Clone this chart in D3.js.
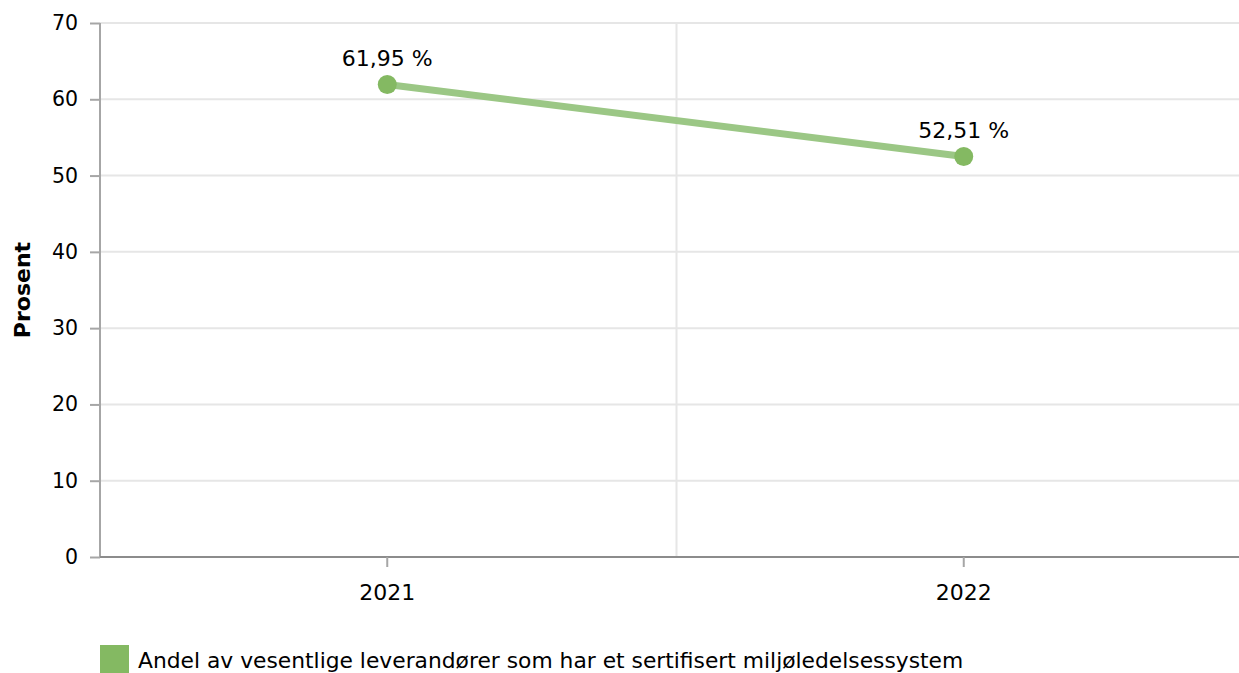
<!DOCTYPE html>
<meta charset="utf-8">
<body style="margin:0">
<script src="https://d3js.org/d3.v7.min.js"></script>
<script>
var years = ["2021", "2022"];
var values = [61.95, 52.51];
var labels = ["61,95 %", "52,51 %"];
var yTicks = [0, 10, 20, 30, 40, 50, 60, 70];
var seriesName = "Andel av vesentlige leverandører som har et sertifisert miljøledelsessystem";

var width = 1239, height = 673;
var font = "'DejaVu Sans', Verdana, sans-serif";

var svg = d3.select("body").append("svg")
    .attr("width", width)
    .attr("height", height)
    .style("font-family", font);

var x = d3.scaleBand()
    .domain(years)
    .range([99, 1252]);

var y = d3.scaleLinear()
    .domain([0, 70])
    .range([557, 23]);

// horizontal grid
svg.append("g").selectAll("line")
    .data(yTicks.slice(1))
    .enter().append("line")
    .attr("x1", 100).attr("x2", width)
    .attr("y1", function(d) { return y(d); })
    .attr("y2", function(d) { return y(d); })
    .attr("stroke", "#e6e6e6")
    .attr("stroke-width", 2);

// vertical grid between categories
svg.append("line")
    .attr("x1", x("2022") + 1).attr("x2", x("2022") + 1)
    .attr("y1", y(70)).attr("y2", y(0))
    .attr("stroke", "#e6e6e6")
    .attr("stroke-width", 2);

// y axis
var yAxis = svg.append("g")
    .attr("transform", "translate(100,0)")
    .call(d3.axisLeft(y).tickValues(yTicks).tickSize(10).tickPadding(12));
yAxis.select(".domain").attr("stroke", "#a6a6a6").attr("stroke-width", 2).attr("d", "M0," + y(70) + "V" + y(0));
yAxis.selectAll(".tick line").attr("stroke", "#a6a6a6").attr("stroke-width", 2);
yAxis.selectAll("text").attr("font-size", 20.5).attr("fill", "#000").style("font-family", font);

// x axis
var xAxis = svg.append("g")
    .attr("transform", "translate(0," + y(0) + ")")
    .call(d3.axisBottom(x).tickSize(10).tickPadding(17));
xAxis.select(".domain").attr("stroke", "#8c8c8c").attr("stroke-width", 2).attr("d", "M100,0H" + width);
xAxis.selectAll(".tick line").attr("stroke", "#a6a6a6").attr("stroke-width", 2);
xAxis.selectAll("text").attr("font-size", 22).attr("fill", "#000").style("font-family", font);

// y title
svg.append("text")
    .attr("transform", "translate(30," + ((y(0) + y(70)) / 2) + ")rotate(-90)")
    .attr("text-anchor", "middle")
    .attr("font-size", 22)
    .attr("font-weight", "bold")
    .text("Prosent");

var pts = years.map(function(d, i) { return [x(d) + x.bandwidth() / 2, y(values[i])]; });

svg.append("path")
    .attr("d", d3.line()(pts))
    .attr("fill", "none")
    .attr("stroke", "#9bc785")
    .attr("stroke-width", 7);

svg.selectAll(".dot")
    .data(pts)
    .enter().append("circle")
    .attr("cx", function(d) { return d[0]; })
    .attr("cy", function(d) { return d[1]; })
    .attr("r", 9.5)
    .attr("fill", "#84b962");

svg.selectAll(".lbl")
    .data(pts)
    .enter().append("text")
    .attr("x", function(d) { return d[0]; })
    .attr("y", function(d) { return d[1] - 18.5; })
    .attr("text-anchor", "middle")
    .attr("font-size", 22)
    .text(function(d, i) { return labels[i]; });

// legend
svg.append("rect")
    .attr("x", 100).attr("y", 645)
    .attr("width", 29).attr("height", 28)
    .attr("fill", "#84b962");
svg.append("text")
    .attr("x", 138).attr("y", 668)
    .attr("font-size", 21.8)
    .text(seriesName);
</script>
</body>
